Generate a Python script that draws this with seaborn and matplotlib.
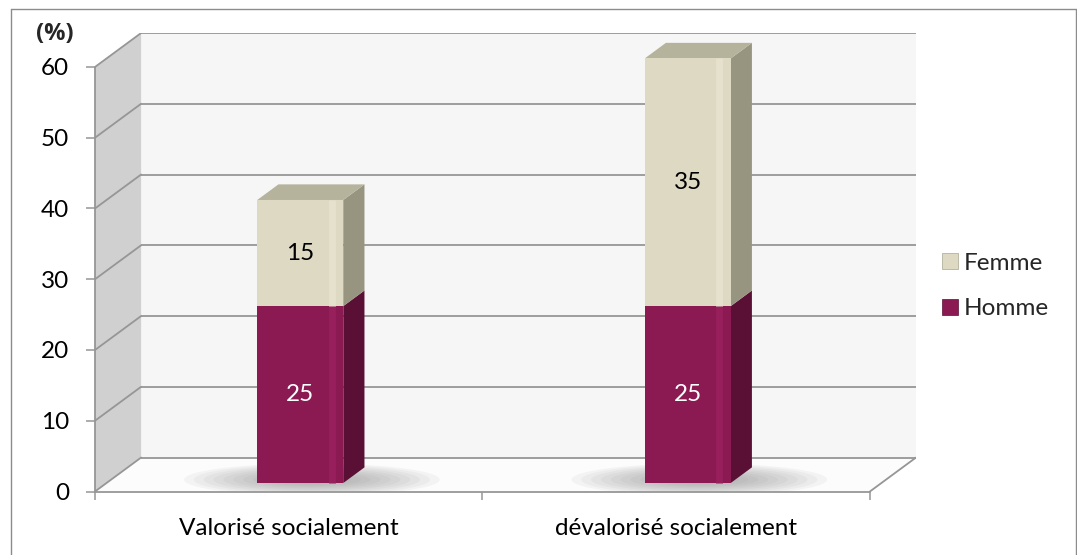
import numpy as np
import matplotlib
matplotlib.use("Agg")
import matplotlib.pyplot as plt
import seaborn as sns
import pandas as pd
from matplotlib.patches import Polygon, Ellipse, Patch
from matplotlib.lines import Line2D

# ---- data ----
categories = ["Valorisé socialement", "dévalorisé socialement"]
homme = [25, 25]
femme = [15, 35]
series_names = ["Femme", "Homme"]
yticks = [0, 10, 20, 30, 40, 50, 60]

# ---- style ----
sns.set_theme(style="white")
plt.rcParams['font.family'] = ['Lato', 'DejaVu Sans']

HOMME = "#8c1a52"
HOMME_SIDE = "#5a0f34"
HOMME_HI = "#971f5b"
FEMME = "#ddd9c3"
FEMME_SIDE = "#97957f"
FEMME_TOP = "#b6b39d"
FEMME_HI = "#e5e1cc"
GRID = "#969696"
FS = 17.5

W, H = 1077, 555
fig = plt.figure(figsize=(W / 100, H / 100), dpi=100)
fig.patch.set_facecolor("white")
ax = fig.add_axes([95 / W, (H - 491.5) / H, 821 / W, 458.5 / H])
ax.set_facecolor("none")

DX, DY = 0.119, 4.8      # depth offset of back wall (data units)
F, BD = 0.25, 0.46       # bar front position / bar depth (fraction of depth)
BW = 0.222               # bar width
YTOP = yticks[-1]

df = pd.DataFrame({"cat": categories,
                   "total": np.add(homme, femme),
                   "homme": homme,
                   "femme": femme})

# ---- bars (front faces) through seaborn ----
n0 = len(ax.patches)
sns.barplot(data=df, x="cat", y="total", color=FEMME, saturation=1, width=BW,
            linewidth=0, errorbar=None, ax=ax, zorder=5)
fem_p = list(ax.patches[n0:])
n1 = len(ax.patches)
sns.barplot(data=df, x="cat", y="homme", color=HOMME, saturation=1, width=BW,
            linewidth=0, errorbar=None, ax=ax, zorder=5)
hom_p = list(ax.patches[n1:])

ax.set_xlim(-0.5, 1.5 + DX)
ax.set_ylim(0, YTOP + DY)
ax.set_xlabel("")
ax.set_ylabel("")
for s in ax.spines.values():
    s.set_visible(False)

# ---- walls ----
xl, xr = -0.5, 1.5
back = Polygon([(xl + DX, DY), (xr + DX, DY), (xr + DX, YTOP + DY), (xl + DX, YTOP + DY)],
               closed=True, fc="#f6f6f6", ec="none", zorder=0)
ax.add_patch(back)
side = Polygon([(xl, 0), (xl + DX, DY), (xl + DX, YTOP + DY), (xl, YTOP)],
               closed=True, fc="#d0d0d0", ec="none", zorder=0)
ax.add_patch(side)
floor = Polygon([(xl, 0), (xl + DX, DY), (xr + DX, DY), (xr, 0)],
                closed=True, fc="#fcfcfc", ec="none", zorder=0.5)
ax.add_patch(floor)

for v in yticks:
    ax.plot([xl + DX, xr + DX], [v + DY, v + DY], color=GRID, lw=1.3, zorder=1,
            solid_capstyle="butt")
    ax.plot([xl, xl + DX], [v, v + DY], color=GRID, lw=1.3, zorder=1)
ax.plot([xl, xr], [0, 0], color=GRID, lw=1.3, zorder=2, clip_on=False)
ax.plot([xr, xr + DX], [0, DY], color=GRID, lw=1.3, zorder=2)
ax.plot([xl, xl], [0, YTOP], color=GRID, lw=1.3, zorder=2, clip_on=False)

# ---- floor shadows ----
for i in range(len(categories)):
    cx = i + F * DX + 0.03
    for k in range(12):
        s = 1 - k / 13
        e = Ellipse((cx, DY * 0.35), 0.66 * s, DY * 0.95 * s, fc="#707070",
                    ec="none", alpha=0.06, zorder=0.8)
        ax.add_patch(e)
        e.set_clip_path(floor)

# ---- shift fronts into depth and add side / top faces ----
for p in fem_p + hom_p:
    p.set_x(p.get_x() + F * DX)
    p.set_y(p.get_y() + F * DY)

ddx, ddy = BD * DX, BD * DY
for i in range(len(categories)):
    x0 = hom_p[i].get_x()
    x1 = x0 + hom_p[i].get_width()
    y0 = F * DY
    tot = homme[i] + femme[i]
    segs = [(0, homme[i], HOMME_SIDE), (homme[i], tot, FEMME_SIDE)]
    for b, t, c in segs:
        ax.add_patch(Polygon([(x1, y0 + b), (x1 + ddx, y0 + b + ddy),
                              (x1 + ddx, y0 + t + ddy), (x1, y0 + t)],
                             closed=True, fc=c, ec="none", zorder=4))
    ax.add_patch(Polygon([(x0, y0 + tot), (x0 + ddx, y0 + tot + ddy),
                          (x1 + ddx, y0 + tot + ddy), (x1, y0 + tot)],
                         closed=True, fc=FEMME_TOP, ec="none", zorder=4))
    # soft highlight near the right edge of the front face
    hx = x1 - 0.03
    ax.plot([hx, hx], [y0, y0 + homme[i]], color=HOMME_HI, lw=5, zorder=5.5,
            solid_capstyle="butt")
    ax.plot([hx, hx], [y0 + homme[i], y0 + tot], color=FEMME_HI, lw=5, zorder=5.5,
            solid_capstyle="butt")
    # labels
    cx = x0 + (x1 - x0) / 2
    ax.text(cx, y0 + homme[i] / 2, f"{homme[i]}", ha="center", va="center",
            color="white", fontsize=FS, zorder=6)
    ax.text(cx, y0 + homme[i] + femme[i] / 2, f"{femme[i]}", ha="center",
            va="center", color="black", fontsize=FS, zorder=6)

# ---- ticks ----
ax.set_yticks(yticks)
ax.set_yticklabels([str(v) for v in yticks])
ax.tick_params(axis="y", left=True, length=6.5, width=1.1, color=GRID, pad=12,
               labelsize=FS, labelcolor="black")
ax.set_xticks(range(len(categories)))
ax.set_xticklabels(categories)
ax.set_xticks([-0.5, 0.5, 1.5], minor=True)
ax.tick_params(axis="x", which="major", bottom=True, length=0, pad=19,
               labelsize=FS, labelcolor="black")
ax.tick_params(axis="x", which="minor", bottom=True, length=6, width=1.1, color=GRID)
ax.grid(False)

# ---- unit label ----
fig.text(55 / W, 1 - 34 / H, "(%)", ha="center", va="center", fontsize=17,
         fontweight="bold", family=["Open Sans", "DejaVu Sans"])

# ---- legend ----
handles = [Patch(fc=FEMME, ec="#a8a690", lw=0.5), Patch(fc=HOMME, ec="#5a0f34", lw=0.5)]
fig.legend(handles, series_names, loc="center left",
           bbox_to_anchor=(920 / W, 1 - 286 / H), frameon=False, fontsize=FS,
           handlelength=0.65, handleheight=0.65, handletextpad=0.25, labelspacing=1.0)

# ---- outer border ----
bc = "#8c8c8c"
fig.add_artist(Line2D([11 / W, 11 / W], [0, 1 - 9 / H], color=bc, lw=1, transform=fig.transFigure))
fig.add_artist(Line2D([11 / W, 1075.5 / W], [1 - 9 / H, 1 - 9 / H], color=bc, lw=1, transform=fig.transFigure))
fig.add_artist(Line2D([1075.5 / W, 1075.5 / W], [0, 1 - 9 / H], color=bc, lw=1, transform=fig.transFigure))

fig.savefig("out.png", dpi=100)
